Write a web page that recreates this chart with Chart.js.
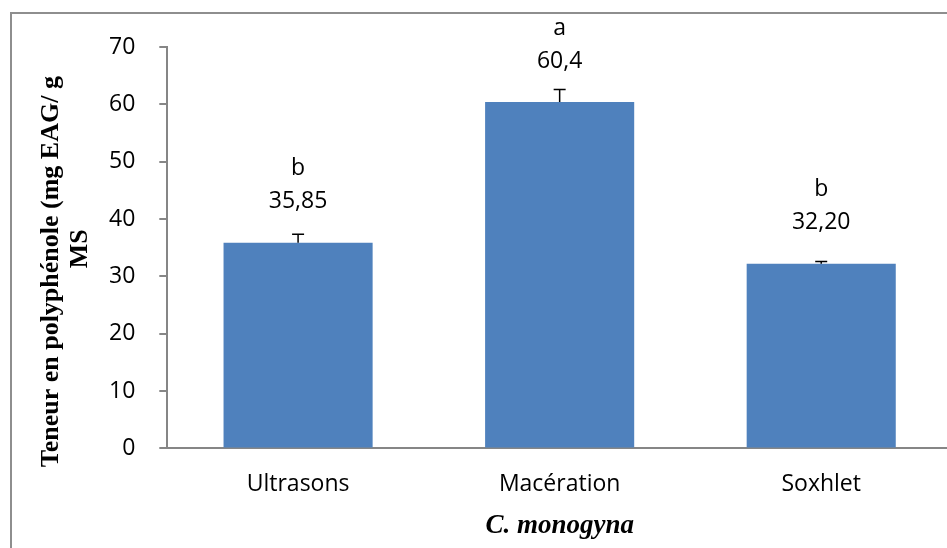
<!DOCTYPE html>
<html>
<head>
<meta charset="utf-8">
<script src="https://cdn.jsdelivr.net/npm/chart.js@4/dist/chart.umd.min.js"></script>
<style>
    html, body { margin: 0; padding: 0; background: #fff; overflow: hidden; }
    #frame {
        position: absolute; left: 10px; top: 12px; width: 1000px; height: 600px;
        border-left: 2px solid #8e8e8e; border-top: 2px solid #8e8e8e;
    }
    #wrap { position: absolute; left: 0; top: 0; width: 952px; height: 548px; }
</style>
</head>
<body>
<div id="frame"></div>
<div id="wrap"><canvas id="chart"></canvas></div>
<script>
const categories = ['Ultrasons', 'Macération', 'Soxhlet'];
const values = [35.85, 60.4, 32.2];
const errors = [1.5, 2.2, 0.4];
const valueLabels = ['35,85', '60,4', '32,20'];
const letters = ['b', 'a', 'b'];
const yTitleLines = ['Teneur en polyphénole (mg EAG/ g', 'MS'];
const yMin = 0;
const yMax = 70;
const yStep = 10;

const tickFont = { family: '"Open Sans", sans-serif', size: 23 };
const titleFamily = '"Liberation Serif", serif';
const axisColor = '#868686';

// error bars + "letter / value" labels above each bar
const barExtras = {
    id: 'barExtras',
    afterDatasetsDraw(chart) {
        const ctx = chart.ctx;
        const meta = chart.getDatasetMeta(0);
        const y = chart.scales.y;
        ctx.save();
        meta.data.forEach((bar, i) => {
            const top = y.getPixelForValue(values[i] + errors[i]);
            ctx.strokeStyle = '#000';
            ctx.lineWidth = 1.5;
            ctx.beginPath();
            ctx.moveTo(bar.x, bar.y);
            ctx.lineTo(bar.x, top);
            ctx.moveTo(bar.x - 6, top);
            ctx.lineTo(bar.x + 6, top);
            ctx.stroke();

            ctx.fillStyle = '#000';
            ctx.font = `${tickFont.size}px ${tickFont.family}`;
            ctx.textAlign = 'center';
            ctx.textBaseline = 'middle';
            ctx.fillText(valueLabels[i], bar.x, bar.y - 41);
            ctx.fillText(letters[i], bar.x, bar.y - 74);
        });
        ctx.restore();
    }
};

// y title drawn by hand: the first line sits a little lower than the axis centre
const yTitle = {
    id: 'yTitle',
    afterDraw(chart) {
        const ctx = chart.ctx;
        const area = chart.chartArea;
        const mid = (area.top + area.bottom) / 2;
        ctx.save();
        ctx.fillStyle = '#000';
        ctx.font = `bold 26px ${titleFamily}`;
        ctx.textAlign = 'center';
        ctx.textBaseline = 'alphabetic';
        [[yTitleLines[0], 58, mid + 24], [yTitleLines[1], 87, mid + 1]].forEach(([text, x, cy]) => {
            ctx.save();
            ctx.translate(x, cy);
            ctx.rotate(-Math.PI / 2);
            ctx.fillText(text, 0, 0);
            ctx.restore();
        });
        ctx.restore();
    }
};

new Chart(document.getElementById('chart'), {
    type: 'bar',
    data: {
        labels: categories,
        datasets: [{
            data: values,
            backgroundColor: '#4F81BD',
            borderWidth: 0,
            categoryPercentage: 1,
            barPercentage: 0.57
        }]
    },
    options: {
        responsive: true,
        maintainAspectRatio: false,
        animation: false,
        layout: { padding: { top: 47, left: 85, right: 0, bottom: 8 } },
        plugins: {
            legend: { display: false },
            tooltip: { enabled: false }
        },
        scales: {
            x: {
                grid: { display: false },
                border: { color: axisColor, width: 2 },
                ticks: { color: '#000', font: tickFont, padding: 14 },
                title: {
                    display: true,
                    text: 'C. monogyna',
                    color: '#000',
                    font: { family: titleFamily, size: 27, weight: 'bold', style: 'italic', lineHeight: 1.0 },
                    padding: { top: 1, bottom: 0 }
                }
            },
            y: {
                min: yMin,
                max: yMax,
                ticks: { stepSize: yStep, color: '#000', font: tickFont, padding: 24 },
                grid: { drawOnChartArea: false, drawTicks: true, tickLength: 8, color: axisColor, lineWidth: 2 },
                border: { color: axisColor, width: 2 }
            }
        }
    },
    plugins: [barExtras, yTitle]
});
</script>
</body>
</html>
